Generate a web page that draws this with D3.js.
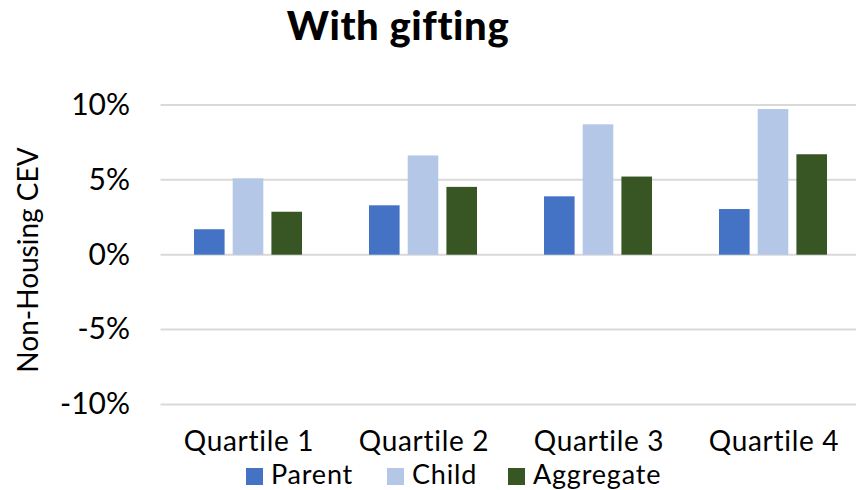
<!DOCTYPE html>
<html>
<head>
<meta charset="utf-8">
<script src="https://cdn.jsdelivr.net/npm/d3@7"></script>
<style>
  body { margin: 0; background: #fff; }
  text { font-family: Lato, "Open Sans", sans-serif; fill: #000; }
</style>
</head>
<body>
<div id="chart"></div>
<script>
// data
const quartiles = ["Quartile 1", "Quartile 2", "Quartile 3", "Quartile 4"];
const seriesNames = ["Parent", "Child", "Aggregate"];
const parentVals = [0.017, 0.033, 0.039, 0.0305];
const childVals = [0.051, 0.0663, 0.0871, 0.0973];
const aggregateVals = [0.0287, 0.0453, 0.0522, 0.0671];
const yTicks = [-0.10, -0.05, 0, 0.05, 0.10];
const colors = ["#4472C4", "#B4C7E7", "#375623"];

const width = 856, height = 490;

const svg = d3.select("#chart").append("svg")
    .attr("width", width)
    .attr("height", height);

const y = d3.scaleLinear().domain([-0.10, 0.10]).range([404.4, 105]);
const x0 = d3.scaleBand().domain(quartiles).range([160.5, 860.5]);
const x1 = d3.scaleBand().domain(seriesNames).range([33.5, 141.5]).paddingInner(0.21);
const color = d3.scaleOrdinal().domain(seriesNames).range(colors);
const pct = v => d3.format(".0%")(v).replace("\u2212", "-");

const rows = quartiles.map((q, i) => ({
  q: q,
  values: [parentVals[i], childVals[i], aggregateVals[i]]
}));

// gridlines
svg.append("g")
  .selectAll("line")
  .data(yTicks)
  .enter().append("line")
  .attr("x1", 160.5)
  .attr("x2", width)
  .attr("y1", d => y(d))
  .attr("y2", d => y(d))
  .attr("stroke", "#D9D9D9")
  .attr("stroke-width", 2);

// y tick labels
svg.append("g")
  .selectAll("text")
  .data(yTicks)
  .enter().append("text")
  .attr("x", 130)
  .attr("y", d => y(d))
  .attr("dy", "0.33em")
  .attr("text-anchor", "end")
  .style("font-size", "30px")
  .text(pct);

// bars
const group = svg.append("g")
  .selectAll("g")
  .data(rows)
  .enter().append("g")
  .attr("transform", d => `translate(${x0(d.q)},0)`);

group.selectAll("rect")
  .data(d => d.values.map((v, j) => ({ name: seriesNames[j], v: v })))
  .enter().append("rect")
  .attr("x", d => x1(d.name))
  .attr("width", x1.bandwidth())
  .attr("y", d => y(Math.max(0, d.v)))
  .attr("height", d => Math.abs(y(d.v) - y(0)))
  .attr("fill", d => color(d.name));

// category labels
svg.append("g")
  .selectAll("text")
  .data(quartiles)
  .enter().append("text")
  .attr("x", d => x0(d) + x0.bandwidth() / 2 + 1)
  .attr("y", 451)
  .attr("text-anchor", "middle")
  .style("font-size", "28px")
  .style("letter-spacing", "0.7px")
  .text(d => d);

// y axis title
svg.append("text")
  .attr("transform", "translate(38,260) rotate(-90)")
  .attr("text-anchor", "middle")
  .style("font-size", "28px")
  .text("Non-Housing CEV");

// title
svg.append("text")
  .attr("x", 398)
  .attr("y", 40)
  .attr("text-anchor", "middle")
  .style("font-size", "40px")
  .style("font-weight", 900)
  .style("letter-spacing", "0.6px")
  .text("With gifting");

// legend
const legendX = [246, 387, 508];
const legend = svg.append("g")
  .selectAll("g")
  .data(seriesNames)
  .enter().append("g")
  .attr("transform", (d, i) => `translate(${legendX[i]},476.5)`);

legend.append("rect")
  .attr("x", 0)
  .attr("y", -8.5)
  .attr("width", 17)
  .attr("height", 17)
  .attr("fill", d => color(d));

legend.append("text")
  .attr("x", 25)
  .attr("y", 7.5)
  .style("font-size", "27px")
  .style("letter-spacing", "0.8px")
  .text(d => d);
</script>
</body>
</html>
